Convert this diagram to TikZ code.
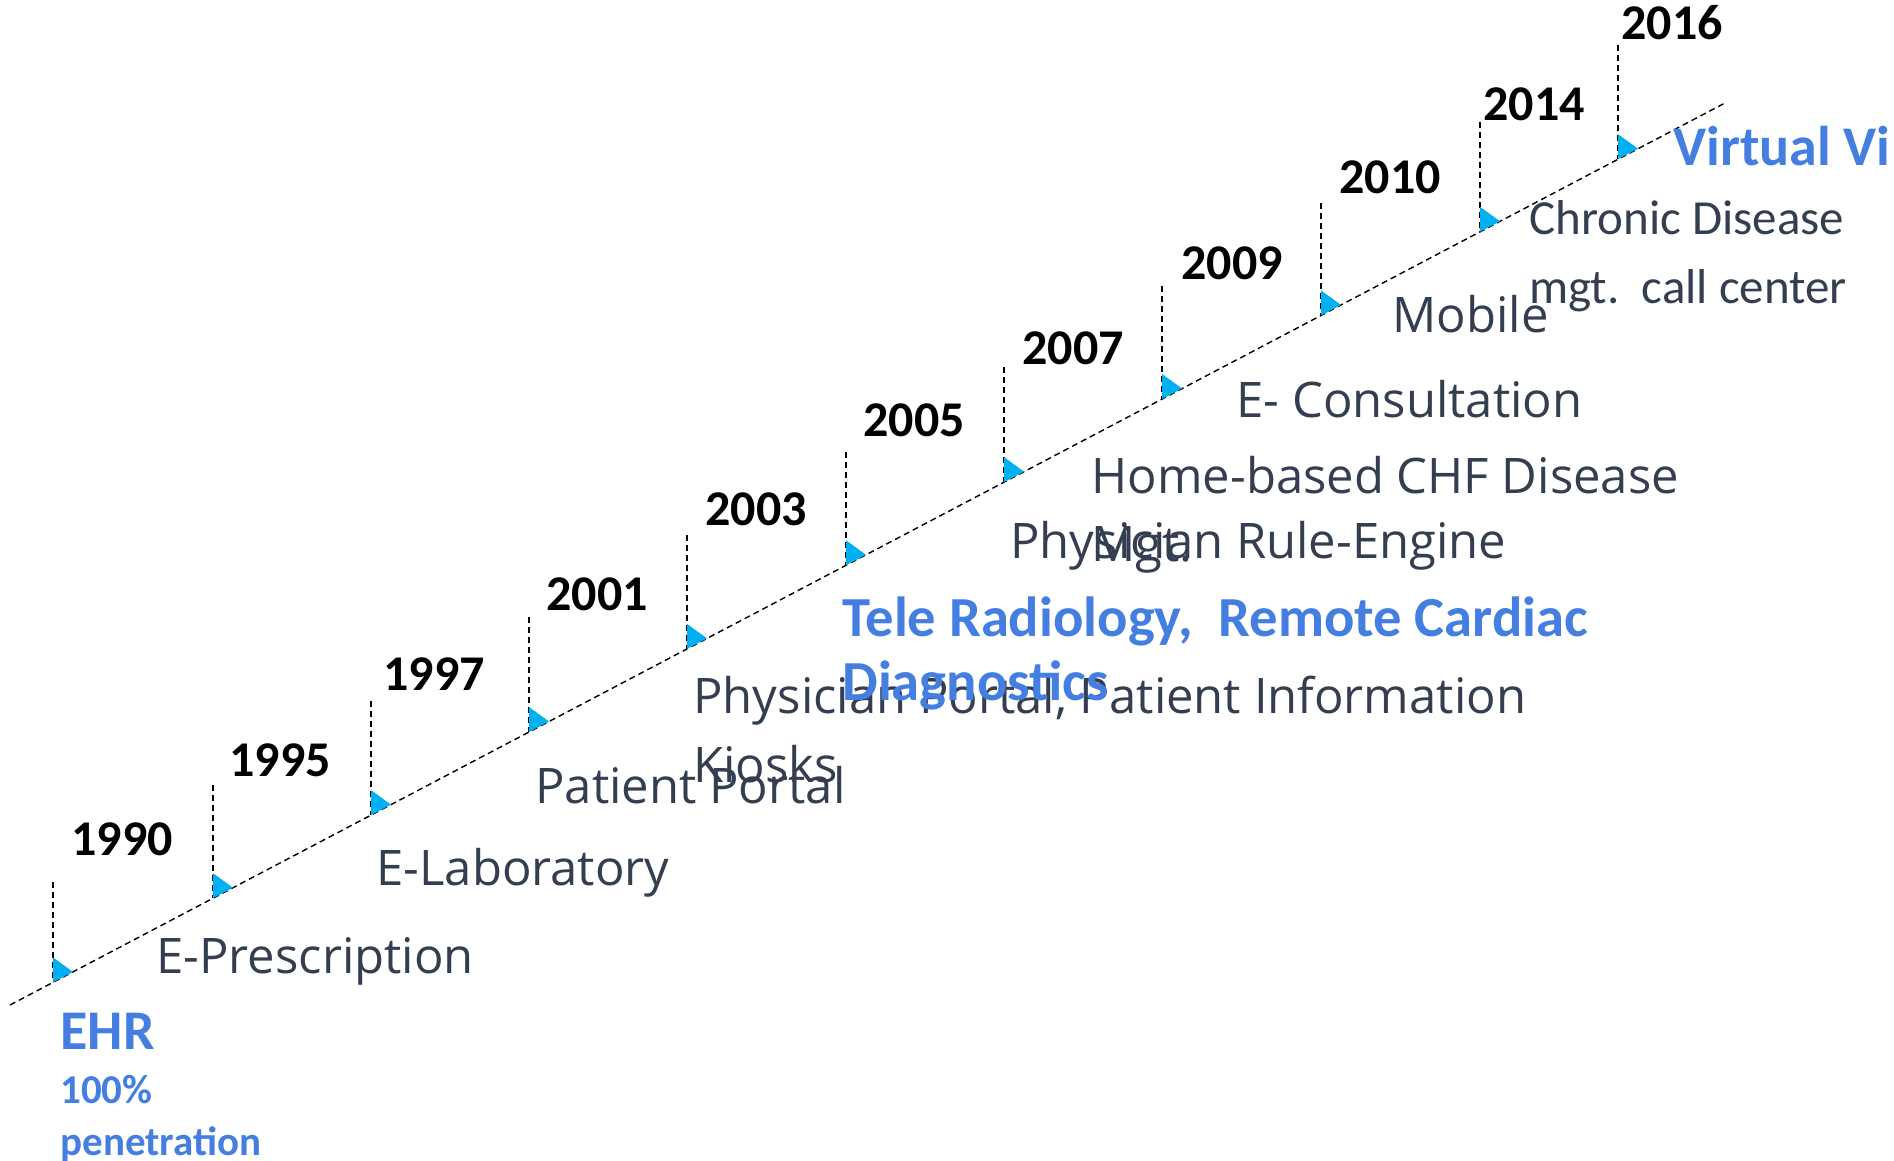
\documentclass[tikz,border=0pt]{standalone}
\usepackage{fontspec}
\setmainfont{Open Sans}
\newfontfamily\calibri{Carlito}

\begin{document}
\begin{tikzpicture}[x=0.5pt, y=-0.5pt,
    year/.style={font=\calibri\bfseries\fontsize{25}{30}\selectfont, anchor=base west, inner sep=0pt},
    item/.style={font=\fontsize{24.5}{29}\selectfont, text=slate, anchor=base west, inner sep=0pt},
    hilite/.style={font=\calibri\bfseries\fontsize{28}{32}\selectfont, text=hiblue, anchor=base west, inner sep=0pt}]

    % Farben
    \definecolor{slate}{RGB}{51,63,80}
    \definecolor{hiblue}{RGB}{68,126,224}
    \definecolor{marker}{RGB}{0,176,240}

    % Rahmen
    \useasboundingbox (0,0) rectangle (1894,1161);

    % Zeitachse
    \coordinate (start) at (10,1005);
    \coordinate (end) at (1725,103);
    \draw[densely dashed, line width=0.7pt] (start) -- (end);

    % Jahre: x / Strichhoehe / Jahr / Text-x / Grundlinie
    \def\years{
        53/100/1990/71/855,
        213/113/1995/229/776,
        371/114/1997/383/690,
        529/115/2001/546/610,
        687/114/2003/705/525,
        846/113/2005/863/436,
        1004/115/2007/1022/364,
        1162/113/2009/1181/279,
        1321/112/2010/1339/193,
        1480/110/2014/1483/120,
        1618/114/2016/1621/40
    }
    \foreach \x/\h/\yr/\lx/\ly in \years {
        \pgfmathsetmacro{\yb}{1005 - 0.526*(\x - 10)}
        \coordinate (b\yr) at (\x, \yb);
        \coordinate (t\yr) at (\x, \yb - \h);
        \draw[densely dashed, line width=0.6pt] (t\yr) -- (b\yr);
        \fill[marker] (b\yr) -- ++(0,-25) -- ++(20,14.5) -- cycle;
        \node[year] (y\yr) at (\lx, \ly) {\yr};
    }

    % Meilensteine
    \node[item] (eprescr) at (156,973) {E-Prescription};
    \node[item] (elab) at (376,885) {E-Laboratory};
    \node[item] (ptportal) at (535,803) {Patient Portal};
    \node[item] (phportal) at (693,713) {Physician Portal, Patient Information};
    \node[item] (kiosks) at (693,782) {Kiosks};
    \node[item] (rules) at (1010,558) {Physician Rule-Engine};
    \node[item] (chf) at (1091,493) {Home-based CHF Disease};
    \node[item] (chfmgt) at (1091,561) {Mgt.};
    \node[item] (econs) at (1236,417) {E- Consultation};
    \node[item] (mobile) at (1392,332) {Mobile};
    \node[item, font=\calibri\fontsize{24.5}{29}\selectfont] (chronic) at (1529,234) {Chronic Disease};
    \node[item, font=\calibri\fontsize{24.5}{29}\selectfont] (callctr) at (1529,303) {mgt.\ \ call center};

    % Hervorgehoben
    \node[hilite] (ehr) at (60,1049) {EHR};
    \node[hilite, font=\calibri\bfseries\fontsize{20.5}{24}\selectfont] (ehrpct) at (60,1103) {100\%};
    \node[hilite, font=\calibri\bfseries\fontsize{20.5}{24}\selectfont] (ehrpen) at (60,1155) {penetration};
    \node[hilite, font=\calibri\bfseries\fontsize{28.3}{32}\selectfont] (tele) at (842,636) {Tele Radiology,\ \ Remote Cardiac};
    \node[hilite, font=\calibri\bfseries\fontsize{28.3}{32}\selectfont] (diag) at (842,700) {Diagnostics};
    \node[hilite] (virtual) at (1673,165) {Virtual Vi};

\end{tikzpicture}
\end{document}
